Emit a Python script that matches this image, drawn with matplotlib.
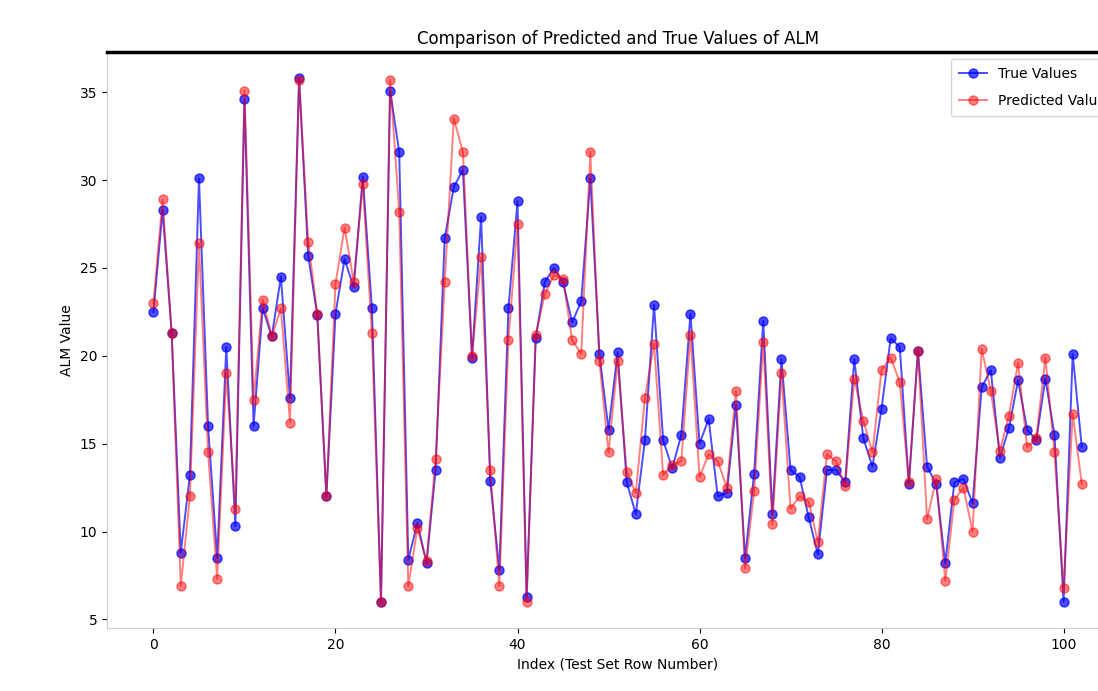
import numpy as np
import matplotlib
matplotlib.use('Agg')
import matplotlib.pyplot as plt

# Valores (indice de la fila del set de prueba)
true_values = [
    22.5, 28.3, 21.3, 8.8, 13.2, 30.1, 16.0, 8.5, 20.5, 10.3,
    34.6, 16.0, 22.7, 21.1, 24.5, 17.6, 35.8, 25.7, 22.3, 12.0,
    22.4, 25.5, 23.9, 30.2, 22.7, 6.0, 35.1, 31.6, 8.4, 10.5,
    8.2, 13.5, 26.7, 29.6, 30.6, 19.9, 27.9, 12.9, 7.8, 22.7,
    28.8, 6.3, 21.0, 24.2, 25.0, 24.2, 21.9, 23.1, 30.1, 20.1,
    15.8, 20.2, 12.8, 11.0, 15.2, 22.9, 15.2, 13.6, 15.5, 22.4,
    15.0, 16.4, 12.0, 12.2, 17.2, 8.5, 13.3, 22.0, 11.0, 19.8,
    13.5, 13.1, 10.8, 8.7, 13.5, 13.5, 12.8, 19.8, 15.3, 13.7,
    17.0, 21.0, 20.5, 12.7, 20.3, 13.7, 12.7, 8.2, 12.8, 13.0,
    11.6, 18.2, 19.2, 14.2, 15.9, 18.6, 15.8, 15.2, 18.7, 15.5,
    6.0, 20.1, 14.8,
]
predicted_values = [
    23.0, 28.9, 21.3, 6.9, 12.0, 26.4, 14.5, 7.3, 19.0, 11.3,
    35.1, 17.5, 23.2, 21.1, 22.7, 16.2, 35.7, 26.5, 22.4, 12.0,
    24.1, 27.3, 24.2, 29.8, 21.3, 6.0, 35.7, 28.2, 6.9, 10.2,
    8.3, 14.1, 24.2, 33.5, 31.6, 20.0, 25.6, 13.5, 6.9, 20.9,
    27.5, 6.0, 21.2, 23.5, 24.6, 24.4, 20.9, 20.1, 31.6, 19.7,
    14.5, 19.7, 13.4, 12.2, 17.6, 20.7, 13.2, 13.8, 14.0, 21.2,
    13.1, 14.4, 14.0, 12.5, 18.0, 7.9, 12.3, 20.8, 10.4, 19.0,
    11.3, 12.0, 11.7, 9.4, 14.4, 14.0, 12.6, 18.7, 16.3, 14.5,
    19.2, 19.9, 18.5, 12.8, 20.3, 10.7, 13.0, 7.2, 11.8, 12.5,
    10.0, 20.4, 18.0, 14.6, 16.6, 19.6, 14.8, 15.3, 19.9, 14.5,
    6.8, 16.7, 12.7,
]
index = np.arange(len(true_values))

fig = plt.figure(figsize=(10.98, 6.91), dpi=100)
# el eje se sale un poco por la derecha (como en la captura original)
ax = fig.add_axes([0.0975, 0.0912, 0.930, 0.8335])

ax.plot(index, true_values, label='True Values', color='blue', marker='o',
        markersize=6.5, linewidth=1.4, alpha=0.7)
ax.plot(index, predicted_values, label='Predicted Values', color='red', marker='o',
        markersize=6.5, linewidth=1.4, alpha=0.5)

ax.set_title('Comparison of Predicted and True Values of ALM', fontsize=12)
ax.set_xlabel('Index (Test Set Row Number)', fontsize=10)
ax.set_ylabel('ALM Value', fontsize=10)
ax.set_xticks([0, 20, 40, 60, 80, 100])
ax.set_yticks([5, 10, 15, 20, 25, 30, 35])

# bordes
ax.spines['top'].set_color('black')
ax.spines['top'].set_linewidth(2.5)
ax.spines['left'].set_color('#cccccc')
ax.spines['bottom'].set_color('#cccccc')
ax.spines['right'].set_visible(False)

ax.legend(loc='upper right', labelspacing=0.9, borderpad=0.6)

plt.savefig('out.png', dpi=100)
